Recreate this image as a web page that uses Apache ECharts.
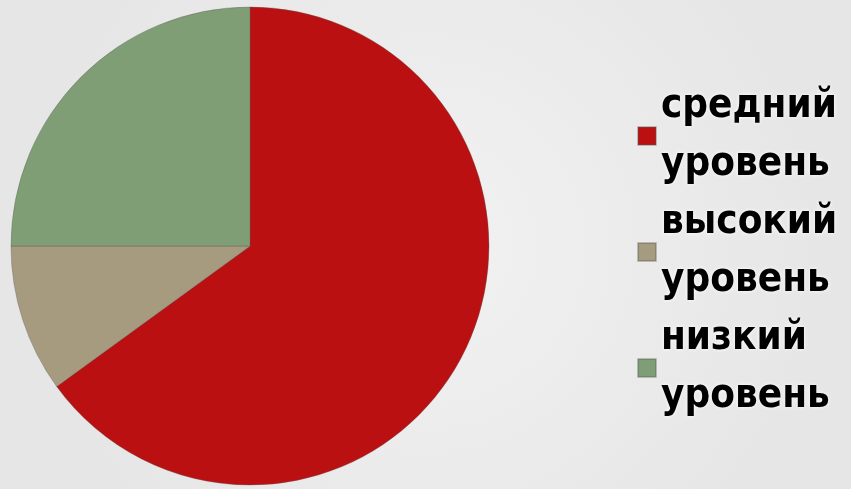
<!DOCTYPE html>
<html><head><meta charset="utf-8">
<script src="https://cdn.jsdelivr.net/npm/echarts@6/dist/echarts.min.js"></script>
<style>html,body{margin:0;padding:0;background:#ececec;}#c{width:851px;height:489px;}</style>
</head><body><div id="c"></div>
<script>
const categories = ['средний\nуровень', 'высокий\nуровень', 'низкий\nуровень'];
const values = [65, 10, 25];
const colors = ['#bb1011', '#a69a7f', '#809e75'];

const chart = echarts.init(document.getElementById('c'));
chart.setOption({
  backgroundColor: {
    type: 'radial', x: 0.5, y: 0.5, r: 0.8,
    colorStops: [{offset: 0, color: '#f2f2f2'}, {offset: 1, color: '#e6e6e6'}]
  },
  animation: false,
  color: colors,
  legend: {
    orient: 'vertical',
    left: 632,
    top: 73,
    itemWidth: 18,
    itemHeight: 18,
    itemGap: 0,
    icon: 'rect',
    textStyle: {
      fontFamily: 'DejaVu Sans Condensed',
      fontWeight: 'bold',
      fontSize: 40,
      lineHeight: 58,
      color: '#000',
      textShadowColor: '#ffffff',
      textShadowBlur: 4
    },
    data: categories
  },
  series: [{
    type: 'pie',
    center: [250, 246],
    radius: 239,
    startAngle: 90,
    clockwise: true,
    label: {show: false},
    labelLine: {show: false},
    itemStyle: {borderColor: 'rgba(90,90,90,0.35)', borderWidth: 1},
    data: categories.map((n, i) => ({name: n, value: values[i]}))
  }]
});
</script></body></html>
